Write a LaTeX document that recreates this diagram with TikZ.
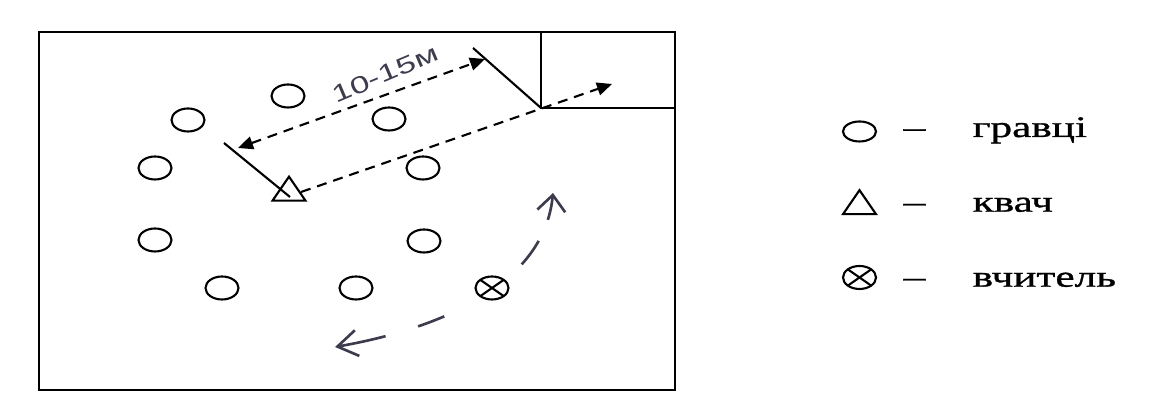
\documentclass[tikz,border=0pt]{standalone}
\usepackage{fontspec}
\setmainfont{Liberation Serif}
\newfontfamily\legendfont[FakeStretch=1.45, FakeBold=1]{Liberation Serif}
\newfontfamily\handfont[FakeStretch=1.45]{Liberation Sans}
\usepackage{xcolor}
\usepackage{tikz}
\usetikzlibrary{shapes.geometric, arrows.meta, positioning}
\definecolor{penink}{RGB}{60, 60, 78}

\tikzset{
    player/.style={draw, ellipse, line width=0.6pt, minimum width=0.33cm, minimum height=0.23cm, inner sep=0pt},
    teacher/.style={player, path picture={
        \draw[line width=0.6pt] (path picture bounding box.south west) -- (path picture bounding box.north east)
              (path picture bounding box.north west) -- (path picture bounding box.south east);}},
    catcher/.style={draw, line width=0.6pt, isosceles triangle, isosceles triangle stretches,
        shape border rotate=90, minimum width=0.33cm, minimum height=0.24cm, inner sep=0pt},
    runline/.style={line width=0.6pt, dash pattern=on 1mm off 0.7mm},
    legendtext/.style={inner sep=0pt, font=\legendfont\fontsize{8.5}{10}\selectfont}
}

\begin{document}
\begin{tikzpicture}
\useasboundingbox (0,0) rectangle (11.64,4.05);

% Field
\draw[line width=0.7pt] (0.39,0.15) rectangle (6.75,3.73);
\draw[line width=0.7pt] (5.41,3.73) -- (5.41,2.97) -- (6.75,2.97);
\coordinate (corner) at (5.41,2.97);

% Players
\foreach \x/\y [count=\i] in {2.88/3.09, 3.89/2.86, 1.88/2.85, 1.55/2.37, 4.23/2.37,
                              1.55/1.65, 4.24/1.64, 2.22/1.17, 3.56/1.17} {
    \node[player] (p\i) at (\x,\y) {};
}

% Catcher and teacher
\node[catcher] (catcher) at (2.89,2.13) {};
\node[teacher] (teacher) at (4.92,1.17) {};

% Lines 10-15 m apart
\coordinate (lineLa) at (2.24,2.62);
\coordinate (lineLb) at (2.90,2.08);
\coordinate (lineRa) at (4.73,3.57);
\draw[line width=0.6pt] (lineLa) -- (lineLb);
\draw[line width=0.6pt] (lineRa) -- (corner);

% Distance and run
\coordinate (distL) at (2.38,2.57);
\coordinate (distR) at (4.85,3.46);
\draw[runline, {Triangle[length=1.5mm,width=1.3mm]}-{Triangle[length=1.5mm,width=1.3mm]}] (distL) -- (distR);
\coordinate (runEnd) at (6.12,3.21);
\draw[runline, -{Triangle[length=1.5mm,width=1.3mm]}] (catcher.east) -- (runEnd);
\node[text=penink, font=\handfont\fontsize{6.8}{8}\selectfont, rotate=23] (dist) at (3.85,3.31) {10-15м};

% Teacher's walk
\coordinate (walkA) at (3.35,0.58);
\coordinate (walkB) at (5.53,2.12);
\draw[penink, line width=0.75pt, dash pattern=on 0.48cm off 0.34cm on 0.28cm off 0.94cm on 0.29cm off 0.23cm on 0.4cm,
      {Straight Barb[length=2mm,width=2.6mm]}-{Straight Barb[length=1.6mm,width=2.8mm]}]
      (walkA) .. controls (4.6,0.8) and (5.45,1.3) .. (walkB);

% Legend
\node[player, minimum height=0.2cm] (lgPlayer) at (8.595,2.735) {};
\node[catcher, minimum height=0.24cm] (lgCatcher) at (8.595,1.995) {};
\node[teacher] (lgTeacher) at (8.595,1.275) {};
\node[legendtext, anchor=base west] (txtPlayer) at (9.72,2.68) {гравці};
\node[legendtext, anchor=base west] (txtCatcher) at (9.72,1.933) {квач};
\node[legendtext, anchor=base west] (txtTeacher) at (9.72,1.183) {вчитель};
\node[legendtext, base left=0.46cm of txtPlayer] (dashPlayer) {–};
\node[legendtext, base left=0.46cm of txtCatcher] (dashCatcher) {–};
\node[legendtext, base left=0.46cm of txtTeacher] (dashTeacher) {–};

\end{tikzpicture}
\end{document}
